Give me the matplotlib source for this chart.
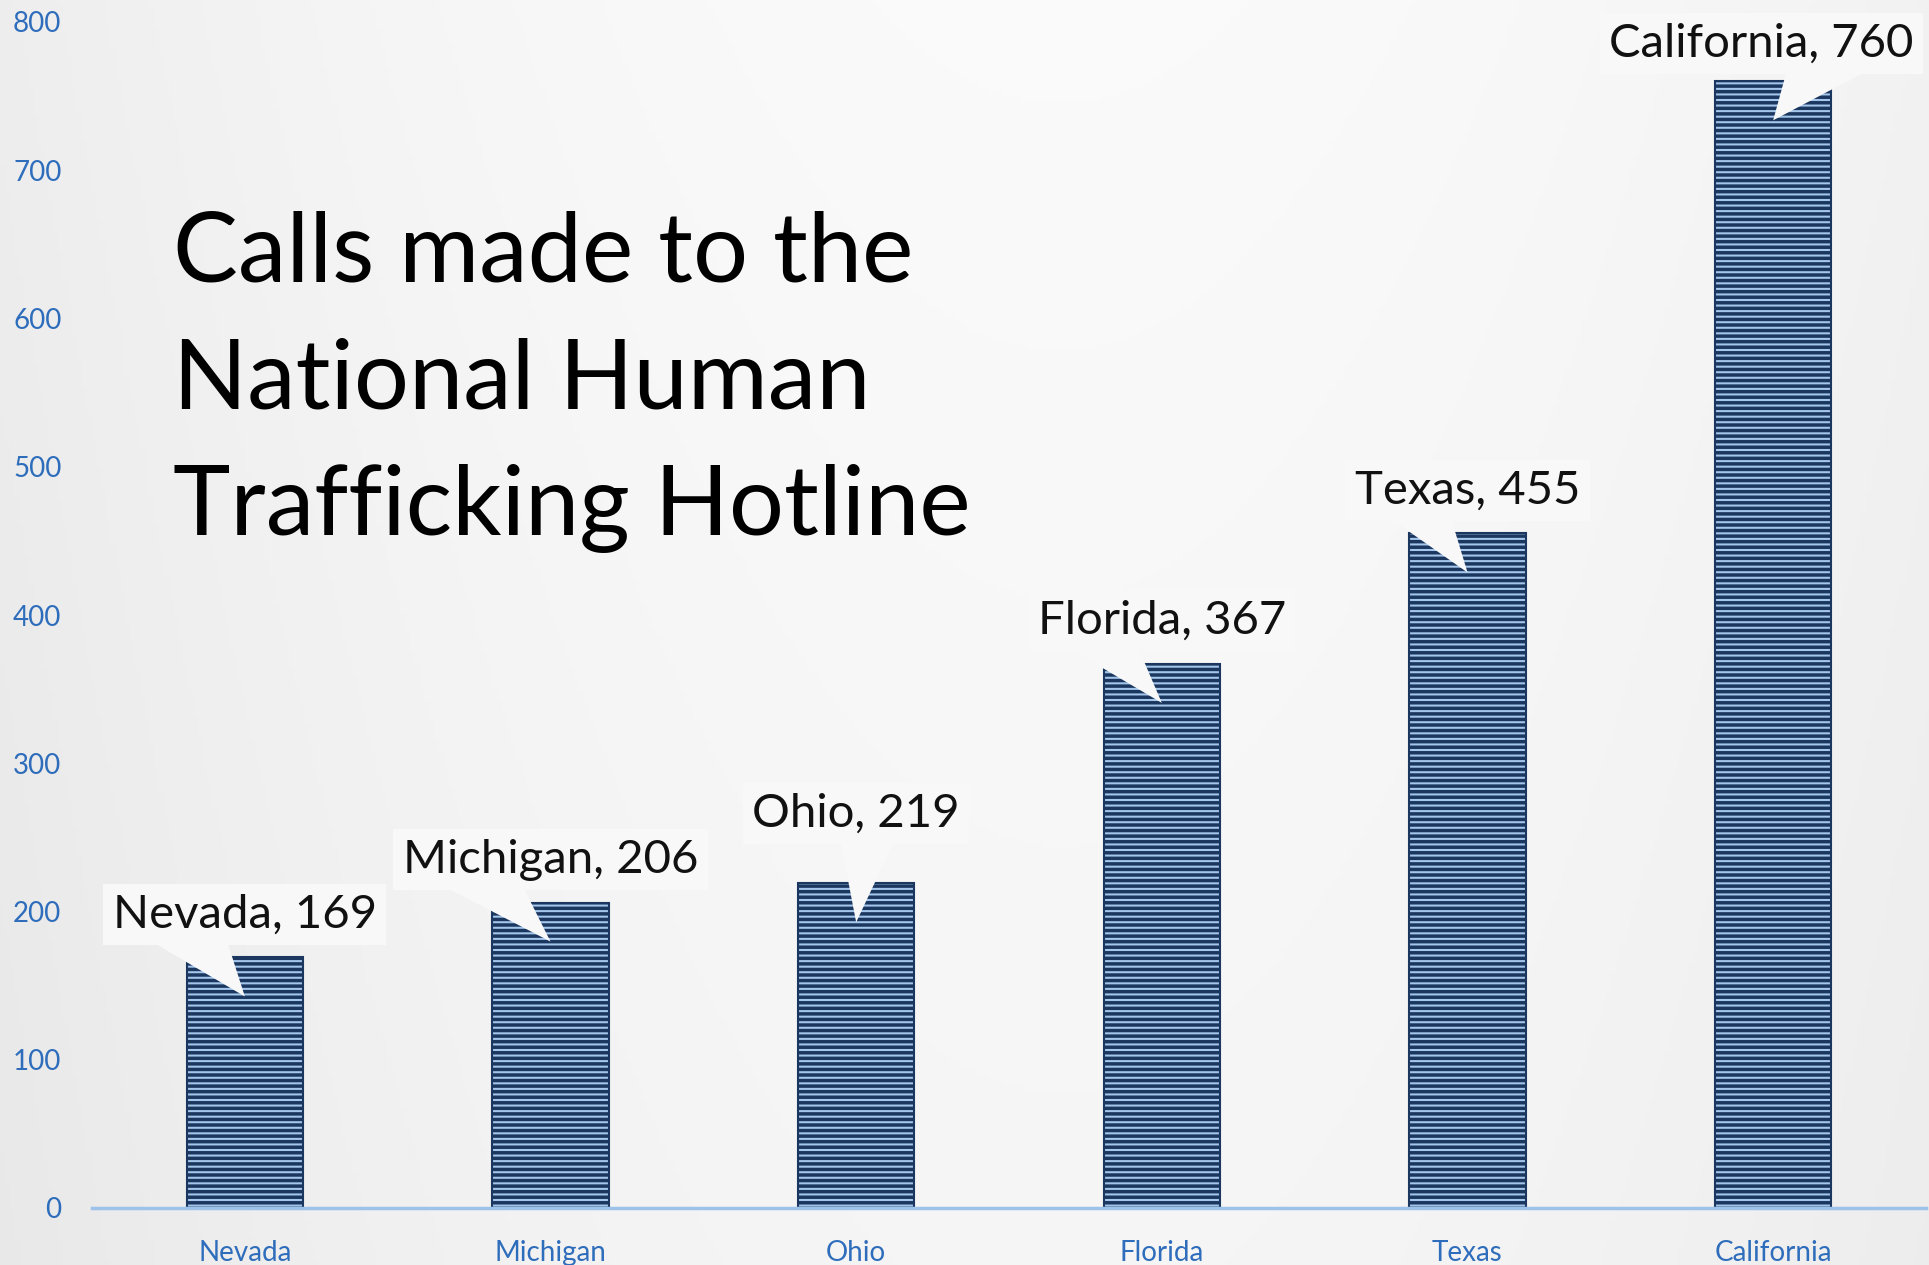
import numpy as np
import matplotlib
matplotlib.use("Agg")
import matplotlib.pyplot as plt
from matplotlib.patches import Polygon

# data
states = ["Nevada", "Michigan", "Ohio", "Florida", "Texas", "California"]
calls = [169, 206, 219, 367, 455, 760]
yticks = [0, 100, 200, 300, 400, 500, 600, 700, 800]
title = "Calls made to the\nNational Human\nTrafficking Hotline"

# callout styling (pixel offsets)
lift_px = [43, 43, 70, 43, 43, 38]          # label centre above bar top
shift_px = [0, 0, 0, 0, 0, -12]             # label horizontal shift
tail_px = [(-95, -18), (-108, -28), (-16, 39), (-95, -24), (-80, -17), (14, 97)]

plt.rcParams["font.family"] = ["Lato", "DejaVu Sans"]
plt.rcParams["hatch.linewidth"] = 2.5

W, H = 1929, 1265
fig = plt.figure(figsize=(W / 100, H / 100), dpi=100)

# background gradient
bg = fig.add_axes([0, 0, 1, 1])
gx, gy = np.meshgrid(np.linspace(0, 1, 400), np.linspace(0, 1, 260))
shade = 0.982 - 0.05 * ((gx - 0.55) / 0.55) ** 2 - 0.02 * gy
bg.imshow(np.dstack([shade, shade, shade]), extent=(0, 1, 0, 1), aspect="auto", origin="upper")
bg.set_xlim(0, 1)
bg.set_ylim(0, 1)
bg.axis("off")

left, right = 92 / W, 1926 / W
bottom, top = (H - 1208) / H, (H - 22) / H
ax = fig.add_axes([left, bottom, right - left, top - bottom])
ax.patch.set_alpha(0)

x = np.arange(len(states))
ax.bar(x, calls, width=0.38, color="#a4c6ea", edgecolor="#1b365f",
       hatch="---", linewidth=1.5, zorder=2)

ax.set_xlim(-0.5, len(states) - 0.5)
ax.set_ylim(0, 800)
ax.set_yticks(yticks)
ax.set_xticks(x)
ax.set_xticklabels(states)
ax.tick_params(axis="both", length=0, labelsize=20, labelcolor="#2e6dbb")
ax.tick_params(axis="y", pad=22)
ax.tick_params(axis="x", pad=23)
for s in ["left", "right", "top"]:
    ax.spines[s].set_visible(False)
ax.spines["bottom"].set_color("#9dc3ea")
ax.spines["bottom"].set_linewidth(2.5)
ax.spines["bottom"].set_zorder(3)

px_cat = W * (right - left) / len(states)
px_unit = H * (top - bottom) / 800

for i, v in enumerate(calls):
    ly = v + lift_px[i] / px_unit
    lx = i + shift_px[i] / px_cat
    ax.text(lx, ly, f"{states[i]}, {v}", ha="center", va="center", fontsize=34,
            color="#111111", zorder=6,
            bbox=dict(boxstyle="square,pad=0.2", fc="#f8f8f8", ec="none"))
    base_y = ly - 26 / px_unit
    tip_y = v - 39 / px_unit
    a, b = tail_px[i]
    tri = Polygon([(i + a / px_cat, base_y), (i + b / px_cat, base_y), (i, tip_y)],
                  closed=True, fc="#f8f8f8", ec="none", zorder=5)
    ax.add_patch(tri)

fig.text(173 / W, 1 - 210 / H, title, fontsize=70, color="black",
         ha="left", va="top", linespacing=1.55)

fig.savefig("out.png", dpi=100)
